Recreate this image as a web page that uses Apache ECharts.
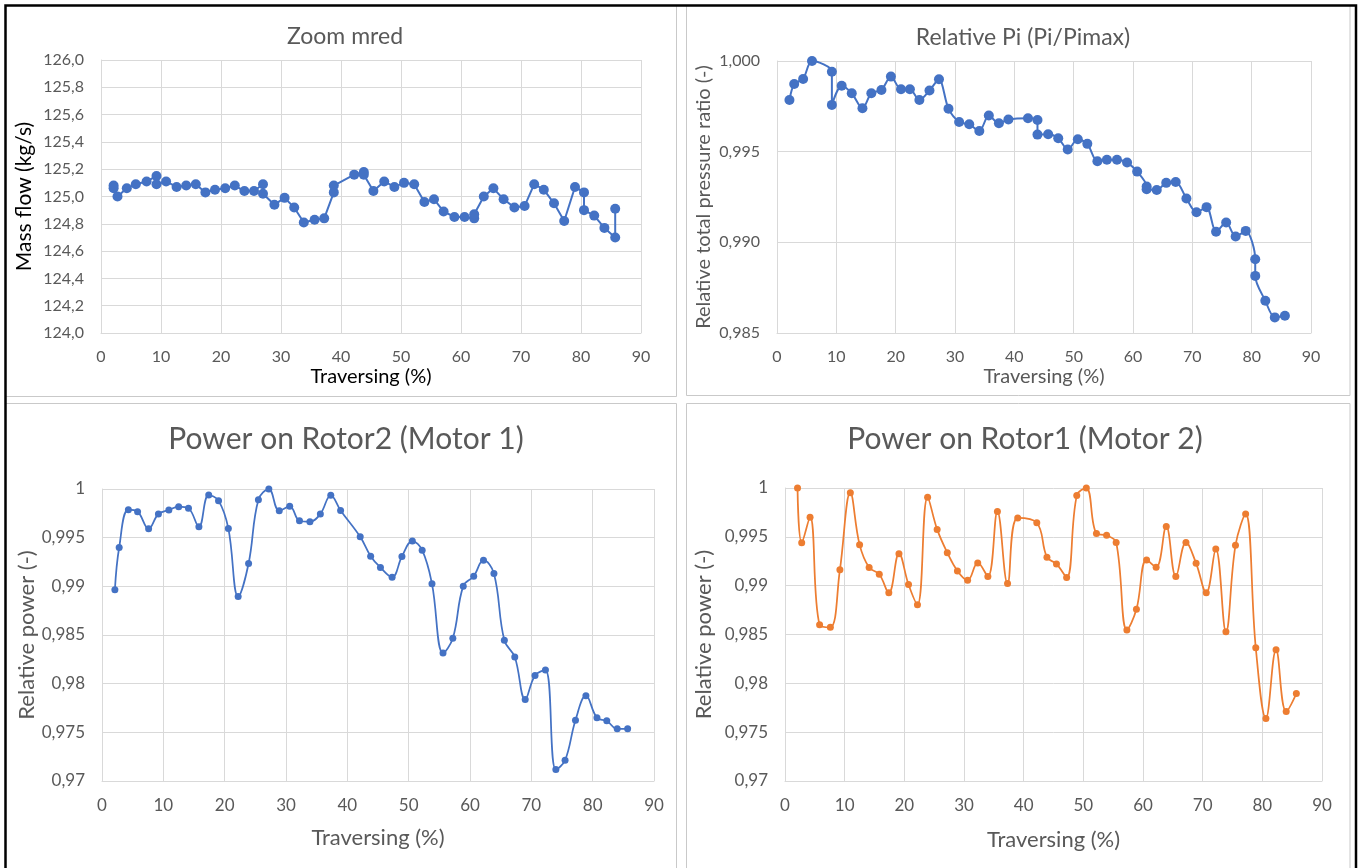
<!DOCTYPE html>
<html>
<head>
<meta charset="utf-8">
<script src="https://cdn.jsdelivr.net/npm/echarts@6/dist/echarts.min.js"></script>
<style>
  html, body { margin: 0; padding: 0; background: #fff; }
  #chart { width: 1362px; height: 868px; }
</style>
</head>
<body>
<div id="chart"></div>
<script>
// Traversing position (%) and measured values for each panel
const mredX = [2.1, 2.1, 2.75, 4.3, 5.8, 7.6, 9.25, 9.25, 10.85, 12.6, 14.2, 15.8, 17.4, 19.0, 20.7, 22.3, 23.9, 25.5, 27.0, 27.0, 28.9, 30.6, 32.2, 33.8, 35.6, 37.2, 38.8, 38.8, 42.2, 43.8, 43.8, 45.4, 47.2, 48.9, 50.5, 52.2, 53.9, 55.5, 57.1, 58.9, 60.6, 62.2, 62.2, 63.8, 65.4, 67.1, 68.9, 70.6, 72.2, 73.8, 75.5, 77.2, 79.0, 80.5, 80.5, 82.2, 83.9, 85.7, 85.7];
const mredY = [125.08, 125.06, 125.00, 125.06, 125.09, 125.11, 125.15, 125.09, 125.11, 125.07, 125.08, 125.09, 125.03, 125.05, 125.06, 125.08, 125.04, 125.04, 125.09, 125.02, 124.94, 124.99, 124.92, 124.81, 124.83, 124.84, 125.03, 125.08, 125.16, 125.18, 125.16, 125.04, 125.11, 125.07, 125.10, 125.09, 124.96, 124.98, 124.89, 124.85, 124.85, 124.84, 124.87, 125.00, 125.06, 124.98, 124.92, 124.93, 125.09, 125.05, 124.95, 124.82, 125.07, 125.03, 124.90, 124.86, 124.77, 124.70, 124.91];

const piX = [2.1, 2.9, 4.4, 5.9, 9.25, 9.25, 10.9, 12.6, 14.4, 15.9, 17.6, 19.2, 20.9, 22.4, 24.0, 25.7, 27.3, 28.9, 30.7, 32.4, 34.1, 35.7, 37.4, 39.0, 42.3, 43.9, 43.9, 45.7, 47.4, 49.0, 50.7, 52.3, 54.0, 55.6, 57.3, 59.0, 60.7, 62.3, 62.3, 64.0, 65.6, 67.2, 69.0, 70.7, 72.4, 74.0, 75.7, 77.3, 79.0, 80.6, 80.6, 82.3, 83.9, 85.6];
const piY = [0.99785, 0.99873, 0.99901, 1.0, 0.99941, 0.99758, 0.99864, 0.99822, 0.99739, 0.99822, 0.9984, 0.99914, 0.99844, 0.99844, 0.99785, 0.99837, 0.99899, 0.99737, 0.99664, 0.99651, 0.99614, 0.99699, 0.99657, 0.99677, 0.99684, 0.99675, 0.99594, 0.99596, 0.99574, 0.99512, 0.99568, 0.99543, 0.99447, 0.99455, 0.99455, 0.9944, 0.9939, 0.99308, 0.99293, 0.99289, 0.99328, 0.99333, 0.99242, 0.99166, 0.99194, 0.99058, 0.99109, 0.99032, 0.99063, 0.98907, 0.98815, 0.98678, 0.98586, 0.98595];

const rotor2X = [2.1, 2.8, 4.3, 5.8, 7.6, 9.2, 10.9, 12.5, 14.1, 15.8, 17.4, 19.0, 20.6, 22.2, 23.9, 25.5, 27.2, 28.9, 30.6, 32.2, 33.9, 35.6, 37.3, 38.9, 42.1, 43.8, 45.4, 47.3, 48.9, 50.6, 52.2, 53.8, 55.6, 57.2, 58.9, 60.6, 62.2, 63.9, 65.6, 67.3, 69.0, 70.6, 72.3, 74.0, 75.5, 77.2, 78.9, 80.7, 82.3, 84.0, 85.7];
const rotor2Y = [0.98964, 0.99399, 0.99787, 0.99767, 0.99592, 0.99743, 0.99784, 0.99818, 0.99801, 0.99612, 0.99938, 0.9988, 0.99595, 0.98895, 0.99235, 0.9989, 1.0, 0.99777, 0.99822, 0.99674, 0.99664, 0.99743, 0.99935, 0.9978, 0.99509, 0.9931, 0.99194, 0.99094, 0.99307, 0.99465, 0.99372, 0.99026, 0.98315, 0.98466, 0.99002, 0.99104, 0.99269, 0.99132, 0.98446, 0.98274, 0.97838, 0.98085, 0.9814, 0.97117, 0.97213, 0.97625, 0.97876, 0.97649, 0.97618, 0.97536, 0.97536];

const rotor1X = [2.1, 2.8, 4.2, 5.8, 7.6, 9.2, 10.95, 12.5, 14.1, 15.8, 17.4, 19.1, 20.7, 22.2, 23.9, 25.5, 27.2, 28.9, 30.6, 32.3, 34.0, 35.6, 37.3, 39.0, 42.2, 43.9, 45.5, 47.2, 48.9, 50.5, 52.2, 53.9, 55.5, 57.3, 58.9, 60.6, 62.2, 63.9, 65.5, 67.2, 68.9, 70.6, 72.2, 73.9, 75.5, 77.2, 78.9, 80.6, 82.3, 84.0, 85.7];
const rotor1Y = [1.0, 0.9944, 0.99701, 0.98601, 0.98574, 0.99162, 0.99952, 0.9942, 0.99185, 0.99117, 0.98927, 0.99328, 0.99012, 0.98805, 0.99905, 0.99576, 0.99338, 0.99151, 0.99056, 0.99233, 0.99094, 0.99759, 0.99022, 0.99694, 0.99644, 0.99291, 0.99223, 0.99084, 0.99922, 1.0, 0.99535, 0.99515, 0.99443, 0.98547, 0.98758, 0.99264, 0.99189, 0.99606, 0.99094, 0.99443, 0.99229, 0.98927, 0.99375, 0.98527, 0.99413, 0.99735, 0.98364, 0.97641, 0.98343, 0.97712, 0.97895];

// Axis ranges
const xRange = { min: 0, max: 90, interval: 10 };
const mredRange = { min: 124.0, max: 126.0, interval: 0.2 };
const piRange = { min: 0.985, max: 1.0, interval: 0.005 };
const powerRange = { min: 0.97, max: 1.0, interval: 0.005 };

const titles = ['Zoom mred', 'Relative Pi (Pi/Pimax)', 'Power on Rotor2 (Motor 1)', 'Power on Rotor1 (Motor 2)'];
const xName = 'Traversing (%)';
const yNames = ['Mass flow (kg/s)', 'Relative total pressure ratio (-)', 'Relative power (-)', 'Relative power (-)'];

const FONT = 'Lato, "Open Sans", sans-serif';
const GREY = '#595959';
const GRID_LINE = '#d9d9d9';
const BLUE = '#4472C4';
const ORANGE = '#ED7D31';

const comma = s => s.replace('.', ',');
const fmtFixed = d => v => comma(v.toFixed(d));
const fmtGeneral = v => comma(String(parseFloat(v.toFixed(3))));

const pairs = (xs, ys) => xs.map((x, i) => [x, ys[i]]);

const grids = [
  { left: 101, top: 60, width: 540, height: 273 },
  { left: 777, top: 61, width: 534, height: 272 },
  { left: 102, top: 489, width: 552, height: 292 },
  { left: 785, top: 488, width: 537, height: 293 }
];

function xAxis(idx, nameGap, nameSize, nameColor, labelSize) {
  return {
    type: 'value', gridIndex: idx, min: xRange.min, max: xRange.max, interval: xRange.interval,
    name: xName, nameLocation: 'middle', nameGap: nameGap,
    nameTextStyle: { fontFamily: FONT, fontSize: nameSize, color: nameColor },
    axisLine: { show: true, lineStyle: { color: GRID_LINE, width: 1 } },
    axisTick: { show: false },
    axisLabel: { fontFamily: FONT, fontSize: labelSize, color: GREY, margin: 16 },
    splitLine: { show: true, lineStyle: { color: GRID_LINE, width: 1 } }
  };
}

function yAxis(idx, range, fmt, name, nameGap, nameSize, nameColor, labelSize) {
  return {
    type: 'value', gridIndex: idx, min: range.min, max: range.max, interval: range.interval,
    name: name, nameLocation: 'middle', nameGap: nameGap,
    nameTextStyle: { fontFamily: FONT, fontSize: nameSize, color: nameColor },
    axisLine: { show: true, lineStyle: { color: GRID_LINE, width: 1 } },
    axisTick: { show: false },
    axisLabel: { fontFamily: FONT, fontSize: labelSize, color: GREY, margin: 17, formatter: fmt },
    splitLine: { show: true, lineStyle: { color: GRID_LINE, width: 1 } }
  };
}

function lineSeries(idx, data, color, symbolSize, width, smooth) {
  return {
    type: 'line', xAxisIndex: idx, yAxisIndex: idx, data: data,
    symbol: 'circle', symbolSize: symbolSize, smooth: smooth,
    itemStyle: { color: color },
    lineStyle: { color: color, width: width },
    clip: true, animation: false
  };
}

function titleAt(text, cx, top, size) {
  return {
    text: text, left: cx, top: top, textAlign: 'center',
    textStyle: { fontFamily: FONT, fontSize: size, fontWeight: 'normal', color: GREY }
  };
}

const panelStroke = '#c9c9c9';

const chart = echarts.init(document.getElementById('chart'), null, { renderer: 'canvas' });
chart.setOption({
  backgroundColor: '#ffffff',
  animation: false,
  title: [
    titleAt(titles[0], 340, 20, 23),
    titleAt(titles[1], 1018, 21, 23),
    titleAt(titles[2], 341, 419, 30),
    titleAt(titles[3], 1020, 419, 30)
  ],
  grid: grids,
  xAxis: [
    xAxis(0, 34, 20, '#000000', 16),
    xAxis(1, 34, 20, GREY, 16),
    xAxis(2, 46, 22, GREY, 17),
    xAxis(3, 48, 22, GREY, 17)
  ],
  yAxis: [
    yAxis(0, mredRange, fmtFixed(1), yNames[0], 66, 21, '#000000', 16),
    yAxis(1, piRange, fmtFixed(3), yNames[1], 63, 20, GREY, 16),
    yAxis(2, powerRange, fmtGeneral, yNames[2], 64, 22, GREY, 17),
    yAxis(3, powerRange, fmtGeneral, yNames[3], 70, 22, GREY, 17)
  ],
  series: [
    lineSeries(0, pairs(mredX, mredY), BLUE, 10, 2, false),
    lineSeries(1, pairs(piX, piY), BLUE, 10, 2, 0.3),
    lineSeries(2, pairs(rotor2X, rotor2Y), BLUE, 7, 1.75, 0.4),
    lineSeries(3, pairs(rotor1X, rotor1Y), ORANGE, 7, 1.75, 0.4)
  ],
  graphic: [
    { type: 'rect', shape: { x: 5.5, y: 5.5, width: 671, height: 391 }, style: { fill: 'none', stroke: panelStroke, lineWidth: 1 }, silent: true },
    { type: 'rect', shape: { x: 686.5, y: 5.5, width: 663.5, height: 390 }, style: { fill: 'none', stroke: panelStroke, lineWidth: 1 }, silent: true },
    { type: 'rect', shape: { x: 5.5, y: 403.5, width: 671, height: 480 }, style: { fill: 'none', stroke: panelStroke, lineWidth: 1 }, silent: true },
    { type: 'rect', shape: { x: 686.5, y: 403.5, width: 663.5, height: 480 }, style: { fill: 'none', stroke: panelStroke, lineWidth: 1 }, silent: true },
    { type: 'polyline', shape: { points: [[5.5, 900], [5.5, 5.5], [1356, 5.5], [1356, 900]] }, style: { fill: 'none', stroke: '#000000', lineWidth: 2.5 }, silent: true }
  ]
});
</script>
</body>
</html>
